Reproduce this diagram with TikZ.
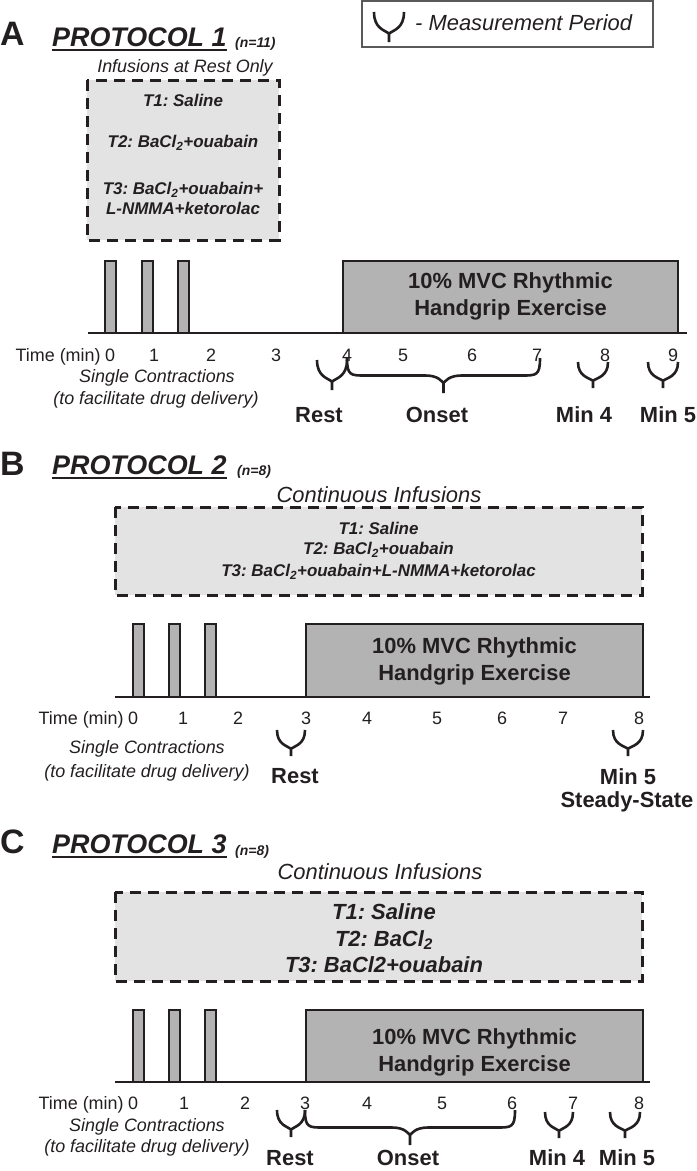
\documentclass[tikz,border=0pt]{standalone}
\usepackage{fontspec}
\setmainfont{Liberation Sans}
\frenchspacing
\usetikzlibrary{positioning}
\definecolor{boxgray}{HTML}{E3E3E3}
\definecolor{exgray}{HTML}{B3B3B3}
\definecolor{ink}{HTML}{231F20}
\newcommand{\fsz}[1]{\fontsize{#1}{#1}\selectfont}
% wide brace: x1, x2, top y, height
\newcommand{\mbrace}[4]{%
  \pgfmathsetmacro{\bm}{(#1+#2)/2}%
  \pgfmathsetmacro{\bc}{min((#2-#1)/4,18)}%
  \pgfmathsetmacro{\by}{#3+0.5*#4}%
  \pgfmathsetmacro{\bp}{#3+0.72*#4}%
  \pgfmathsetmacro{\bt}{#3+#4}%
  \draw[brc] (#1,#3) .. controls (#1,\by) and (#1+0.2*\bc,\by) .. (#1+\bc,\by) -- (\bm-\bc,\by)
      .. controls (\bm-0.3*\bc,\by) and (\bm-0.1*\bc,\bp-2) .. (\bm,\bp)
    (#2,#3) .. controls (#2,\by) and (#2-0.2*\bc,\by) .. (#2-\bc,\by) -- (\bm+\bc,\by)
      .. controls (\bm+0.3*\bc,\by) and (\bm+0.1*\bc,\bp-2) .. (\bm,\bp)
    (\bm,\bp) -- (\bm,\bt);}
% small y-shaped brace: x1, x2, top y, height
\newcommand{\ybrace}[4]{%
  \pgfmathsetmacro{\bm}{(#1+#2)/2}%
  \pgfmathsetmacro{\bw}{#2-#1}%
  \pgfmathsetmacro{\by}{#3+0.55*#4}%
  \pgfmathsetmacro{\bq}{#3+0.6*#4}%
  \pgfmathsetmacro{\bp}{#3+0.72*#4}%
  \pgfmathsetmacro{\bt}{#3+#4}%
  \draw[brc] (#1,#3) .. controls (#1,\by) and (\bm-0.15*\bw,\bq) .. (\bm,\bp)
      .. controls (\bm+0.15*\bw,\bq) and (#2,\by) .. (#2,#3)
    (\bm,\bp) -- (\bm,\bt);}
\begin{document}
\begin{tikzpicture}[x=1bp,y=-1bp,ink,
  infbox/.style={draw,dash pattern=on 11bp off 7bp,line width=3bp,fill=boxgray},
  bar/.style={draw,line width=2.2bp,fill=exgray},
  axisline/.style={line width=2.5bp},
  brc/.style={line width=2.6bp,line join=round},
  panel/.style={font=\fsz{34}\bfseries,inner sep=0,anchor=base west},
  ttl/.style={font=\fsz{27}\bfseries\itshape,inner sep=0,anchor=base west},
  nn/.style={font=\fsz{14}\bfseries\itshape,inner sep=0,anchor=base west},
  infl/.style={font=\fsz{22}\itshape,inner sep=0},
  drug/.style={font=\fsz{17}\bfseries\itshape,inner sep=0},
  exl/.style={font=\fontsize{22}{27}\selectfont\bfseries,align=center,inner sep=0},
  tick/.style={font=\fsz{18},inner sep=0},
  note/.style={font=\fsz{18}\itshape,inner sep=0},
  meas/.style={font=\fsz{22}\bfseries,inner sep=0}]
\useasboundingbox (0,0) rectangle (697,1171);

% legend
\draw[line width=1.3bp,black!65] (362,1) rectangle (653,47);
\ybrace{374}{404}{12}{30}
\node[font=\fsz{22}\itshape,inner sep=0,anchor=west] (leg) at (415,23) {- Measurement Period};

% A
\node[panel] (pA) at (0,45) {A};
\node[ttl] (tA) at (52,46) {PROTOCOL 1};
\draw[line width=2bp] ([yshift=-4bp]tA.base west) -- ([yshift=-4bp]tA.base east);
\node[nn] (nA) at (235,47) {(n=11)};
\node[font=\fsz{18}\itshape,inner sep=0] (iA) at (185,68) {Infusions at Rest Only};
\draw[infbox] (87,80) rectangle (279,240);
\node[drug] (a1) at (183,100) {T1: Saline};
\node[drug] (a2) at (183,143) {T2: BaCl\textsubscript{2}+ouabain};
\node[drug] (a3) at (183,190) {T3: BaCl\textsubscript{2}+ouabain+};
\node[drug] (a4) at (183,208) {L-NMMA+ketorolac};
\foreach \x in {105,142,178} \draw[bar] (\x,333) rectangle (\x+11,261);
\draw[bar] (343,333) rectangle (678,261);
\draw[axisline] (88,333) -- (687,333);
\node[exl] (exA) at (510.5,296.5) {10\% MVC Rhythmic\\Handgrip Exercise};
\foreach \x/\t in {110/0,154/1,211/2,276/3,347/4,403/5,472/6,537/7,605/8,673/9}
  \node[tick] (kA\t) at (\x,355) {\t};
\node[tick,anchor=base east] (timeA) at ([xshift=-4bp]kA0.base west) {Time (min)};
\node[note] (sA1) at (157,378) {Single Contractions};
\node[note] (sA2) at (156,400) {(to facilitate drug delivery)};
\ybrace{317}{347}{360}{30}
\mbrace{347}{540}{358}{35}
\ybrace{578}{608}{362}{26}
\ybrace{648}{678}{362}{26}
\node[meas] (rA) at (319,415) {Rest};
\node[meas] (oA) at (437,415) {Onset};
\node[meas] (m4A) at (584,415) {Min 4};
\node[meas] (m5A) at (668,415) {Min 5};

% B
\node[panel] (pB) at (0,475) {B};
\node[ttl] (tB) at (52,474) {PROTOCOL 2};
\draw[line width=2bp] ([yshift=-4bp]tB.base west) -- ([yshift=-4bp]tB.base east);
\node[nn] (nB) at (237,475) {(n=8)};
\node[infl] (iB) at (379,495) {Continuous Infusions};
\draw[infbox] (115,507) rectangle (642,595);
\node[drug] (b1) at (378.5,528) {T1: Saline};
\node[drug] (b2) at (378.5,550) {T2: BaCl\textsubscript{2}+ouabain};
\node[drug] (b3) at (378.5,572) {T3: BaCl\textsubscript{2}+ouabain+L-NMMA+ketorolac};
\foreach \x in {133,169,205} \draw[bar] (\x,697) rectangle (\x+11,624);
\draw[bar] (306,697) rectangle (643,624);
\draw[axisline] (115,697) -- (650,697);
\node[exl] (exB) at (474.5,661) {10\% MVC Rhythmic\\Handgrip Exercise};
\foreach \x/\t in {133/0,183/1,238/2,306/3,367/4,437/5,502/6,563/7,639/8}
  \node[tick] (kB\t) at (\x,718) {\t};
\node[tick,anchor=base east] (timeB) at ([xshift=-4bp]kB0.base west) {Time (min)};
\node[note] (sB1) at (147,749) {Single Contractions};
\node[note] (sB2) at (147,773) {(to facilitate drug delivery)};
\ybrace{277}{305}{730}{26}
\ybrace{613}{643}{730}{26}
\node[meas] (rB) at (295,776) {Rest};
\node[meas] (m5B) at (628,777) {Min 5};
\node[meas] (ssB) at (627,802) {Steady-State};

% C
\node[panel] (pC) at (0,853) {C};
\node[ttl] (tC) at (52,853) {PROTOCOL 3};
\draw[line width=2bp] ([yshift=-4bp]tC.base west) -- ([yshift=-4bp]tC.base east);
\node[nn] (nC) at (235,855) {(n=8)};
\node[infl] (iC) at (380,872) {Continuous Infusions};
\draw[infbox] (115,892) rectangle (642,981);
\node[drug,font=\fsz{22}\bfseries\itshape] (c1) at (384,912) {T1: Saline};
\node[drug,font=\fsz{22}\bfseries\itshape] (c2) at (384,940) {T2: BaCl\textsubscript{2}};
\node[drug,font=\fsz{22}\bfseries\itshape] (c3) at (384,965) {T3: BaCl2+ouabain};
\foreach \x in {133,169,205} \draw[bar] (\x,1082) rectangle (\x+11,1010);
\draw[bar] (306,1082) rectangle (643,1010);
\draw[axisline] (115,1082) -- (650,1082);
\node[exl] (exC) at (474.5,1052) {10\% MVC Rhythmic\\Handgrip Exercise};
\foreach \x/\t in {133/0,184/1,245/2,305/3,367/4,442/5,512/6,573/7,639/8}
  \node[tick] (kC\t) at (\x,1103) {\t};
\node[tick,anchor=base east] (timeC) at ([xshift=-4bp]kC0.base west) {Time (min)};
\node[note] (sC1) at (147,1127) {Single Contractions};
\node[note] (sC2) at (147,1148) {(to facilitate drug delivery)};
\ybrace{277}{305}{1110}{27}
\mbrace{305}{515}{1110}{35}
\ybrace{545}{573}{1112}{26}
\ybrace{610}{640}{1112}{26}
\node[meas] (rC) at (290,1158) {Rest};
\node[meas] (oC) at (408,1158) {Onset};
\node[meas] (m4C) at (557,1158) {Min 4};
\node[meas] (m5C) at (627,1158) {Min 5};
\end{tikzpicture}
\end{document}
